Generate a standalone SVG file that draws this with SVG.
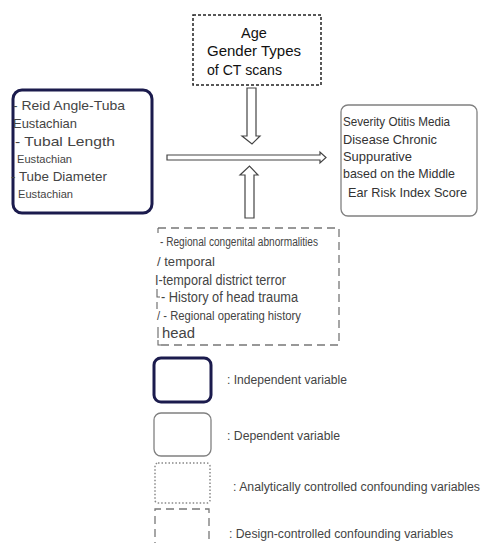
<svg xmlns="http://www.w3.org/2000/svg" width="488" height="543" viewBox="0 0 488 543">
<style>
text{font-family:"Liberation Sans",Arial,sans-serif;}
.ind{fill:#fff;stroke:#1b1b4d;stroke-width:3;}
.dep{fill:#fff;stroke:#808080;stroke-width:1.3;}
.ana{fill:#fff;stroke:#222;stroke-width:1.5;stroke-dasharray:3 2;}
.dsg{fill:none;stroke:#777;stroke-width:1.3;stroke-dasharray:8 5;}
.dot{fill:#fff;stroke:#888;stroke-width:1.5;stroke-dasharray:1.5 2;}
.arr{fill:#fff;stroke:#444;stroke-width:1.2;stroke-linejoin:miter;}
.t1{fill:#111;font-size:14.5px;}
.t2{fill:#444;}
.t3{fill:#333;font-size:13px;}
.lg{fill:#444;}
</style>

<g id="node-confounders-top">
<rect class="ana" x="193" y="15" width="128" height="70"/>
<text class="t1" x="254" y="38" text-anchor="middle">Age</text>
<text class="t1" x="207" y="56" textLength="94" lengthAdjust="spacingAndGlyphs">Gender Types</text>
<text class="t1" x="207" y="75" textLength="75" lengthAdjust="spacingAndGlyphs">of CT scans</text>
</g>

<g id="node-independent">
<rect class="ind" x="13" y="90" width="139" height="123" rx="9"/>
<text class="t2" x="13" y="110" font-size="13.5" textLength="112" lengthAdjust="spacingAndGlyphs">- Reid Angle-Tuba</text>
<text class="t2" x="13" y="128" font-size="13" textLength="64" lengthAdjust="spacingAndGlyphs">Eustachian</text>
<text class="t2" x="15" y="146" font-size="13" textLength="100" lengthAdjust="spacingAndGlyphs">- Tubal Length</text>
<text class="t2" x="17" y="163" font-size="11" textLength="55" lengthAdjust="spacingAndGlyphs">Eustachian</text>
<text class="t2" x="11" y="181" font-size="13.5" textLength="96" lengthAdjust="spacingAndGlyphs">- Tube Diameter</text>
<text class="t2" x="18" y="198" font-size="11" textLength="55" lengthAdjust="spacingAndGlyphs">Eustachian</text>
</g>

<g id="node-dependent">
<rect class="dep" x="341" y="105" width="136" height="111" rx="7"/>
<text class="t3" x="343" y="126" textLength="107" lengthAdjust="spacingAndGlyphs">Severity Otitis Media</text>
<text class="t3" x="343" y="144" textLength="94" lengthAdjust="spacingAndGlyphs">Disease Chronic</text>
<text class="t3" x="343" y="161" textLength="69" lengthAdjust="spacingAndGlyphs">Suppurative</text>
<text class="t3" x="343" y="178" textLength="112" lengthAdjust="spacingAndGlyphs">based on the Middle</text>
<text class="t3" x="348" y="197" textLength="119" lengthAdjust="spacingAndGlyphs">Ear Risk Index Score</text>
</g>

<g id="node-confounders-design">
<path class="dsg" d="M158,228 H339 V345 H158"/>
<path d="M158,228 V233 M157,289 V297 H160 M157,302 V309 M158,327 V338 M158,340 V345 H161" fill="none" stroke="#666" stroke-width="1.1"/>
<text class="t2" x="160" y="246" font-size="12" textLength="158" lengthAdjust="spacingAndGlyphs">- Regional congenital abnormalities</text>
<text class="t2" x="157" y="266" font-size="13.5" textLength="58" lengthAdjust="spacingAndGlyphs">/ temporal</text>
<text class="t2" x="155" y="285" font-size="14" textLength="131" lengthAdjust="spacingAndGlyphs">I-temporal district terror</text>
<text class="t2" x="161" y="302" font-size="14" textLength="137" lengthAdjust="spacingAndGlyphs">- History of head trauma</text>
<text class="t2" x="157" y="320" font-size="12.5" textLength="144" lengthAdjust="spacingAndGlyphs">/ - Regional operating history</text>
<text class="t2" x="162" y="338" font-size="14" textLength="33" lengthAdjust="spacingAndGlyphs">head</text>
</g>

<g id="connectors">
<polygon class="arr" points="247,88 256,88 256,136 260,136 252,144 242,136 247,136"/>
<polygon class="arr" points="167,155 320,155 320,152 326,157.5 320,163 320,160 167,160"/>
<polygon class="arr" points="245,218 254,218 254,175 258,175 249.5,166 240,175 245,175"/>
</g>

<g id="legend-independent">
<rect class="ind" x="154" y="358" width="57" height="44" rx="7"/>
<text class="lg" x="227" y="384" font-size="12.5" textLength="120" lengthAdjust="spacingAndGlyphs">: Independent variable</text>
</g>
<g id="legend-dependent">
<rect class="dep" x="154" y="413" width="57" height="43" rx="7"/>
<text class="lg" x="227" y="440" font-size="13" textLength="113" lengthAdjust="spacingAndGlyphs">: Dependent variable</text>
</g>
<g id="legend-analytical">
<rect class="dot" x="155" y="463" width="55" height="40" rx="3"/>
<text class="lg" x="233" y="491" font-size="12.5" textLength="247" lengthAdjust="spacingAndGlyphs">: Analytically controlled confounding variables</text>
</g>
<g id="legend-design">
<path class="dsg" d="M155,550 V509 H209 V550"/>
<text class="lg" x="229" y="538" font-size="12.5" textLength="224" lengthAdjust="spacingAndGlyphs">: Design-controlled confounding variables</text>
</g>
</svg>
